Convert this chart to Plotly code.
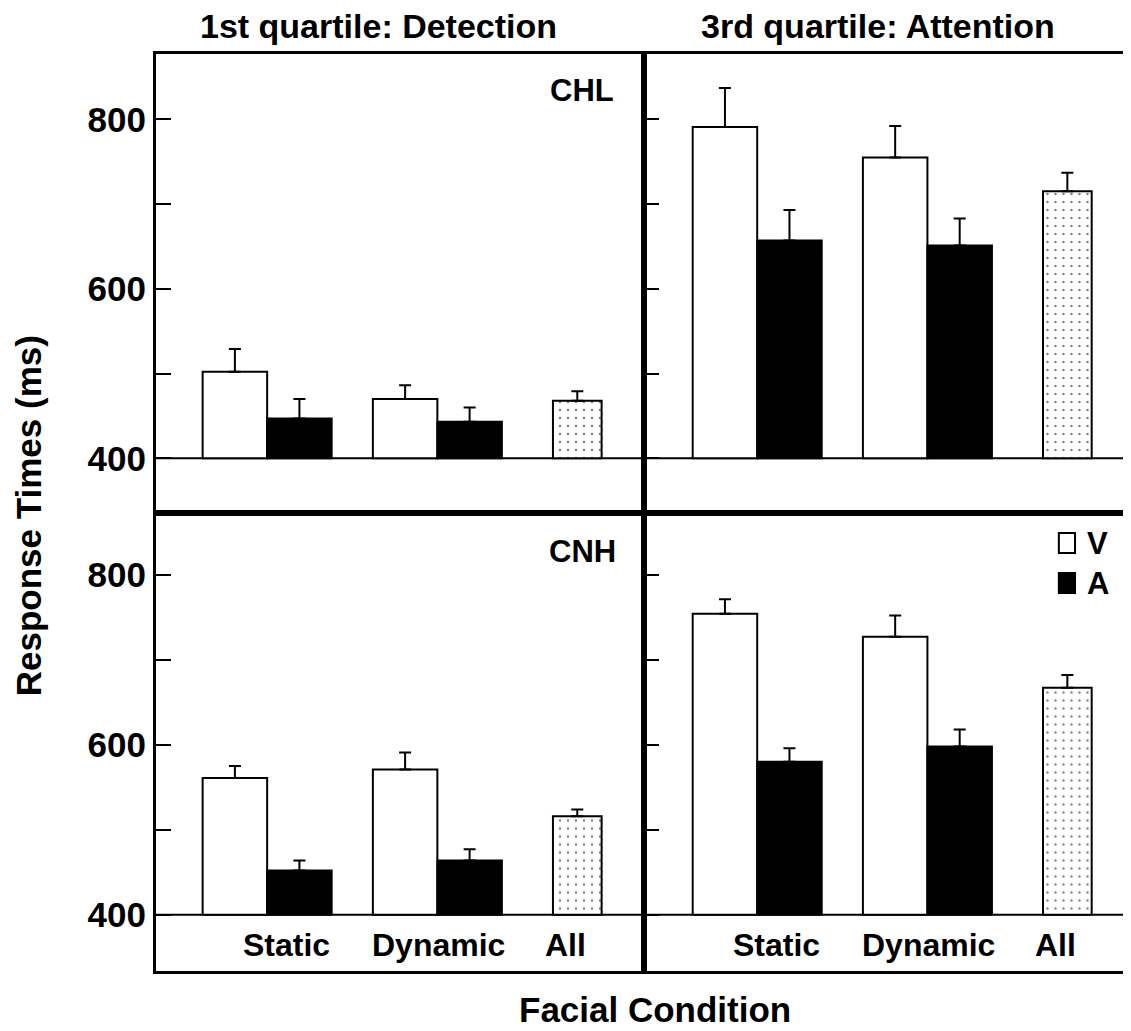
import plotly.graph_objects as go

# ---------------- data ----------------
categories = ["Static", "Dynamic"]
all_label = ["All"]
tick_vals = [400, 500, 600, 700, 800]
tick_text = ["400", "", "600", "", "800"]

# CHL, 1st quartile (Detection)
chl_q1_V = [502, 470]
chl_q1_V_err = [27, 16]
chl_q1_A = [447, 443]
chl_q1_A_err = [23, 17]
chl_q1_all = [468]
chl_q1_all_err = [11]

# CHL, 3rd quartile (Attention)
chl_q3_V = [791, 755]
chl_q3_V_err = [46, 37]
chl_q3_A = [657, 651]
chl_q3_A_err = [36, 32]
chl_q3_all = [715]
chl_q3_all_err = [22]

# CNH, 1st quartile (Detection)
cnh_q1_V = [561, 571]
cnh_q1_V_err = [14, 20]
cnh_q1_A = [452, 464]
cnh_q1_A_err = [12, 13]
cnh_q1_all = [516]
cnh_q1_all_err = [8]

# CNH, 3rd quartile (Attention)
cnh_q3_V = [754, 727]
cnh_q3_V_err = [17, 25]
cnh_q3_A = [580, 598]
cnh_q3_A_err = [16, 20]
cnh_q3_all = [667]
cnh_q3_all_err = [15]

BASE = 400
FONT = "Liberation Sans, Arial, Helvetica, sans-serif"

panels = [
    ("x", "y", chl_q1_V, chl_q1_V_err, chl_q1_A, chl_q1_A_err, chl_q1_all, chl_q1_all_err),
    ("x2", "y2", chl_q3_V, chl_q3_V_err, chl_q3_A, chl_q3_A_err, chl_q3_all, chl_q3_all_err),
    ("x3", "y3", cnh_q1_V, cnh_q1_V_err, cnh_q1_A, cnh_q1_A_err, cnh_q1_all, cnh_q1_all_err),
    ("x4", "y4", cnh_q3_V, cnh_q3_V_err, cnh_q3_A, cnh_q3_A_err, cnh_q3_all, cnh_q3_all_err),
]

W = 0.379      # width of V / A bars (category units)
WA = 0.286     # width of "All" bar
ALL_SHIFT = -0.178

fig = go.Figure()

def err(arr):
    return dict(type="data", array=arr, arrayminus=[0] * len(arr), symmetric=False,
                color="black", thickness=2, width=6)

for xa, ya, v, ve, a, ae, al, ale in panels:
    fig.add_trace(go.Bar(
        x=categories, y=[val - BASE for val in v], base=BASE,
        offset=-W, width=W, xaxis=xa, yaxis=ya,
        marker=dict(color="white", line=dict(color="black", width=2)),
        error_y=err(ve), showlegend=False, name="V"))
    fig.add_trace(go.Bar(
        x=categories, y=[val - BASE for val in a], base=BASE,
        offset=0, width=W, xaxis=xa, yaxis=ya,
        marker=dict(color="black", line=dict(color="black", width=2)),
        error_y=err(ae), showlegend=False, name="A"))
    fig.add_trace(go.Bar(
        x=all_label, y=[val - BASE for val in al], base=BASE,
        offset=ALL_SHIFT - WA / 2, width=WA, xaxis=xa, yaxis=ya,
        marker=dict(color="white", line=dict(color="black", width=2),
                    pattern=dict(shape=".", fgcolor="black", bgcolor="white",
                                 size=8, solidity=0.08)),
        error_y=err(ale), showlegend=False, name="All"))

xbase = dict(type="category", categoryorder="array", categoryarray=categories + all_label,
             showline=True, linewidth=3, linecolor="black", showticklabels=False,
             ticks="", showgrid=False, zeroline=False, fixedrange=True)
ybase = dict(showline=True, linewidth=3, linecolor="black", ticks="inside", ticklen=15,
             tickwidth=2, tickcolor="black", tickvals=tick_vals, ticktext=tick_text,
             showgrid=False, zeroline=False,
             tickfont=dict(family=FONT, size=35, color="black", weight="bold"))

fig.update_layout(
    xaxis=dict(xbase, domain=[0, 0.5], anchor="y", mirror=True, range=[-0.653, 2.211]),
    xaxis2=dict(xbase, domain=[0.5, 1], anchor="y2", mirror=True, range=[-0.668, 2.196]),
    xaxis3=dict(xbase, domain=[0, 0.5], anchor="y3", mirror=True, range=[-0.653, 2.211]),
    xaxis4=dict(xbase, domain=[0.5, 1], anchor="y4", mirror=True, range=[-0.668, 2.196]),
    yaxis=dict(ybase, domain=[0.5, 1], anchor="x", mirror=True, range=[336, 877]),
    yaxis2=dict(ybase, domain=[0.5, 1], anchor="x2", mirror=False, range=[336, 877],
                showticklabels=False),
    yaxis3=dict(ybase, domain=[0, 0.5], anchor="x3", mirror=True, range=[334, 873]),
    yaxis4=dict(ybase, domain=[0, 0.5], anchor="x4", mirror=False, range=[334, 873],
                showticklabels=False),
    barmode="overlay",
    width=1123, height=1023,
    margin=dict(l=148, r=0, t=46, b=60),
    plot_bgcolor="white", paper_bgcolor="white",
    font=dict(family=FONT, color="black"),
)

# baselines at 400
for xa, ya in [("x", "y"), ("x2", "y2"), ("x3", "y3"), ("x4", "y4")]:
    fig.add_shape(type="line", xref=f"{xa} domain", yref=ya, x0=0, x1=1, y0=BASE, y1=BASE,
                  line=dict(color="black", width=2), layer="below")

bold = dict(family=FONT, color="black", weight="bold")
ann = []
# panel titles
ann.append(dict(text="1st quartile: Detection", xref="paper", yref="paper", x=0.228, y=1.0305,
                showarrow=False, xanchor="center", yanchor="middle", font=dict(bold, size=34)))
ann.append(dict(text="3rd quartile: Attention", xref="paper", yref="paper", x=0.740, y=1.0305,
                showarrow=False, xanchor="center", yanchor="middle", font=dict(bold, size=34)))
# group labels
ann.append(dict(text="CHL", xref="paper", yref="paper", x=0.437, y=0.9597, showarrow=False,
                xanchor="center", yanchor="middle", font=dict(bold, size=31)))
ann.append(dict(text="CNH", xref="paper", yref="paper", x=0.437, y=0.457, showarrow=False,
                xanchor="center", yanchor="middle", font=dict(bold, size=31)))
# x category labels (bottom panels)
shifts = [19, 1, -42]
for xa, ya in [("x3", "y3"), ("x4", "y4")]:
    for cat, sh in zip(categories + all_label, shifts):
        ann.append(dict(text=cat, xref=xa, yref=f"{ya} domain", x=cat, y=0.057, xshift=sh,
                        showarrow=False, xanchor="center", yanchor="middle",
                        font=dict(bold, size=32)))
# axis titles
ann.append(dict(text="Response Times (ms)", xref="paper", yref="paper", x=-0.1313, y=0.497,
                textangle=-90, showarrow=False, xanchor="center", yanchor="middle",
                font=dict(bold, size=35)))
ann.append(dict(text="Facial Condition", xref="paper", yref="paper", x=0.512, y=-0.0425,
                showarrow=False, xanchor="center", yanchor="middle", font=dict(bold, size=35)))
# legend text
ann.append(dict(text="V", xref="paper", yref="paper", x=0.953, y=0.4667, showarrow=False,
                xanchor="left", yanchor="middle", font=dict(bold, size=31)))
ann.append(dict(text="A", xref="paper", yref="paper", x=0.953, y=0.4231, showarrow=False,
                xanchor="left", yanchor="middle", font=dict(bold, size=31)))
fig.update_layout(annotations=ann)

# legend swatches
fig.add_shape(type="rect", xref="paper", yref="paper", x0=0.926, x1=0.9426, y0=0.4558, y1=0.4776,
              line=dict(color="black", width=2), fillcolor="white")
fig.add_shape(type="rect", xref="paper", yref="paper", x0=0.926, x1=0.9426, y0=0.4122, y1=0.434,
              line=dict(color="black", width=2), fillcolor="black")

fig.write_html("out.html")
